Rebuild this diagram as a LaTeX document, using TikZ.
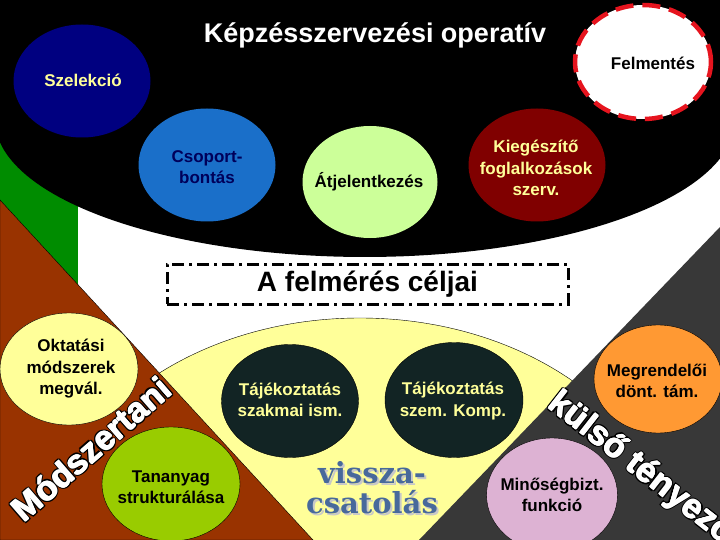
\documentclass[tikz,border=0pt]{standalone}
\usepackage{fontspec}
\setmainfont{Liberation Sans}
\newfontfamily\vissfont{DejaVu Serif}
\usetikzlibrary{shapes.geometric, positioning}

\definecolor{navyoval}{RGB}{0,0,128}
\definecolor{paleyellow}{RGB}{255,255,153}
\definecolor{midblue}{RGB}{26,111,201}
\definecolor{navytext}{RGB}{0,0,90}
\definecolor{palegreen}{RGB}{204,255,153}
\definecolor{darkred}{RGB}{128,0,0}
\definecolor{leafgreen}{RGB}{153,204,0}
\definecolor{nightteal}{RGB}{18,36,36}
\definecolor{orangeoval}{RGB}{255,153,51}
\definecolor{lilac}{RGB}{221,178,211}
\definecolor{brownwedge}{RGB}{153,51,0}
\definecolor{greenband}{RGB}{0,140,0}
\definecolor{greywedge}{RGB}{56,56,56}
\definecolor{steelblue}{RGB}{72,105,155}
\definecolor{shadowgrey}{RGB}{200,200,200}
\definecolor{dashred}{RGB}{230,20,30}

\begin{document}
\begin{tikzpicture}[x=1pt, y=-1pt,
    oval/.style={ellipse, minimum width=137pt, minimum height=113pt, inner sep=0pt},
    ovalline/.style={oval, draw=black, thin},
    lbl/.style={font=\bfseries\fontsize{17}{21.5}\selectfont, align=center, inner sep=0pt},
    bigword/.style={font=\bfseries\fontsize{34}{34}\selectfont, inner sep=0pt},
    viss/.style={font=\vissfont\bfseries\fontsize{29}{30}\selectfont, align=center, inner sep=0pt},
    ]

    \useasboundingbox (0,0) rectangle (720,540);
    \clip (0,0) rectangle (720,540);
    \fill[white] (0,0) rectangle (720,540);

    % background areas
    \draw[thin, fill=paleyellow] (360,560) ellipse [x radius=316pt, y radius=242pt];
    \fill[greenband] (0,100) rectangle (78,290);
    \draw[thin, fill=brownwedge] (0,200) -- (313,540) -- (0,540) -- cycle;
    \fill[greywedge] (720,227) -- (720,540) -- (419,540) -- cycle;
    \fill[black] (0,0) -- plot[domain=170.6:10, samples=90] ({365+370*cos(\x)},{120+137*sin(\x)}) -- (730,0) -- cycle;

    \node[font=\bfseries\fontsize{27}{27}\selectfont, white, anchor=base] (title) at (375,43) {Képzésszervezési operatív};
    \node[draw, line width=3pt, dash pattern=on 12pt off 5pt on 3pt off 5pt, minimum width=401pt, minimum height=40pt,
        font=\bfseries\fontsize{28}{28}\selectfont] (goals) at (367.5,284) {A felmérés céljai};

    % upper ovals
    \node[oval, fill=navyoval] (szel) at (82,81) {};
    \node[lbl, paleyellow] (szeltxt) at (83,80) {Szelekció};
    \node[oval, fill=midblue] (csop) at (207,165) {};
    \node[lbl, navytext] (csoptxt) at (207,167) {Csoport-\\bontás};
    \node[oval, fill=palegreen, minimum width=135pt, minimum height=112pt] (atjel) at (370,182) {};
    \node[lbl] (atjeltxt) at (369,182) {Átjelentkezés};
    \node[oval, fill=darkred] (kieg) at (537,165) {};
    \node[lbl, paleyellow] (kiegtxt) at (536,168) {Kiegészítő\\foglalkozások\\szerv.};
    \node[oval, fill=white, draw=dashred, line width=4.5pt, dash pattern=on 18pt off 9pt,
        minimum width=136pt, minimum height=114pt] (felm) at (643,62) {};
    \node[lbl] (felmtxt) at (653,63) {Felmentés};

    % lower ovals
    \node[ovalline, fill=paleyellow, minimum width=138pt, minimum height=112pt] (okt) at (69,369) {};
    \node[lbl] (okttxt) at (71,369) {Oktatási\\módszerek\\megvál.};
    \node[ovalline, fill=leafgreen, minimum width=138pt, minimum height=114pt] (tan) at (171,484) {};
    \node[lbl] (tantxt) at (171,487) {Tananyag\\strukturálása};
    \node[ovalline, fill=nightteal] (tajsz) at (290,401) {};
    \node[lbl, paleyellow] (tajsztxt) at (290,400) {Tájékoztatás\\szakmai ism.};
    \node[ovalline, fill=nightteal, minimum width=138pt, minimum height=115pt] (tajkomp) at (454,400) {};
    \node[lbl, paleyellow] (tajkomptxt) at (453,401) {Tájékoztatás\\szem. Komp.};
    \node[ovalline, fill=orangeoval, minimum width=128pt, minimum height=108pt] (megr) at (658,379) {};
    \node[lbl] (megrtxt) at (657,381) {Megrendelői\\dönt. tám.};
    \node[ovalline, fill=lilac, minimum width=131pt, minimum height=114pt] (min) at (552,495) {};
    \node[lbl] (mintxt) at (552,495) {Minőségbizt.\\funkció};

    % outlined slanted words
    \foreach \ang [count=\k] in {0,45,...,315}
        \node[bigword, black, rotate=41] (mod\k) at ({91+1.8*cos(\ang)},{449+1.8*sin(\ang)}) {Módszertani};
    \foreach \ang [count=\k] in {0,90,...,270}
        \node[bigword, white, rotate=41] (modw\k) at ({91+0.5*cos(\ang)},{449+0.5*sin(\ang)}) {Módszertani};
    \node[bigword, white, rotate=41] (modszer) at (91,449) {Módszertani};
    \foreach \ang [count=\k] in {0,45,...,315}
        \node[bigword, black, rotate=-38] (kul\k) at ({641+1.8*cos(\ang)},{469+1.8*sin(\ang)}) {külső tényező};
    \foreach \ang [count=\k] in {0,90,...,270}
        \node[bigword, white, rotate=-38] (kulw\k) at ({641+0.5*cos(\ang)},{469+0.5*sin(\ang)}) {külső tényező};
    \node[bigword, white, rotate=-38] (kulso) at (641,469) {külső tényező};

    \node[viss, shadowgrey] (visshadow) at (374,490) {vissza-\\csatolás};
    \node[viss, steelblue] (vissza) at (372,488) {vissza-\\csatolás};

\end{tikzpicture}
\end{document}
